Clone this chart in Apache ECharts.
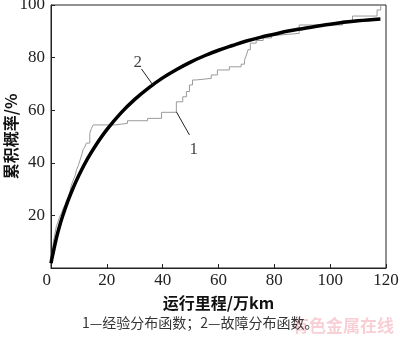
<!DOCTYPE html>
<html>
<head>
<meta charset="utf-8">
<script src="https://cdn.jsdelivr.net/npm/echarts@6/dist/echarts.min.js"></script>
<style>
  html, body { margin: 0; padding: 0; background: #fff; }
  #lineChart { width: 400px; height: 337px; }
</style>
</head>
<body>
<div id="lineChart"></div>
<script>
// 2 - fitted failure distribution (thick black)
var fitX = [0, 0.3, 1, 2, 3, 4, 6, 8, 10, 13, 16, 20, 25, 30, 35, 40, 45, 50, 55, 60, 65, 70, 75, 80, 85, 90, 100, 110, 118];
var fitY = [1.8, 3.5, 6.9, 11.7, 15.7, 19.2, 25.3, 30.6, 35.3, 41.4, 46.6, 52.6, 58.9, 64.1, 68.5, 72.3, 75.5, 78.3, 80.7, 82.8, 84.6, 86.3, 87.7, 88.9, 90.1, 91.0, 92.7, 94.0, 94.7];

// 1 - empirical distribution (grey steps), level after each jump
var empX = [0.2, 0.5, 0.8, 1.3, 1.9, 2.5, 3.1, 3.8, 4.3, 5.0, 5.5, 6.2, 6.7, 7.3, 8.0, 8.6, 9.2, 9.8, 10.4, 11.0, 11.5, 12.1, 12.7, 13.9, 14.5, 15.1, 22.9, 27.4, 34.6, 39.6, 44.9, 47.2, 48.5, 49.6, 50.7, 52.0, 57.4, 59.6, 63.9, 68.1, 69.3, 70.0, 70.6, 71.4, 73.5, 76.0, 79.0, 81.0, 88.9, 104.4, 108.0, 116.8, 118.1];
var empY = [3.0, 6.5, 9.5, 12.5, 15.7, 17.5, 19.5, 21.0, 22.5, 24.0, 25.5, 27.0, 28.5, 31.5, 33.5, 35.0, 37.5, 39.0, 41.0, 43.0, 45.0, 46.0, 47.5, 51.2, 53.1, 54.4, 55.0, 56.0, 56.9, 59.2, 63.2, 65.1, 67.1, 69.6, 71.5, 72.1, 73.4, 75.3, 76.5, 77.5, 79.0, 81.0, 83.0, 85.5, 86.5, 87.5, 88.5, 89.2, 92.4, 94.0, 95.8, 98.1, 100];

var xTicks = [0, 20, 40, 60, 80, 100, 120];
var yTicks = [0, 20, 40, 60, 80, 100];

// curve labels and their leader lines (data units)
var labelText = ['2', '1'];
var labelPos = [[31.1, 78.3], [51.1, 45.2]];
var leaderFrom = [[32.4, 75.7], [44.9, 59.4]];
var leaderTo = [[36.5, 69.6], [49.6, 50.6]];

var serif = '"Liberation Serif", "DejaVu Serif", serif';
var cjk = '"Noto Sans CJK SC", sans-serif';

function pairs(xs, ys) {
  var out = [];
  for (var i = 0; i < xs.length; i++) out.push([xs[i], ys[i]]);
  return out;
}

var diagram = echarts.init(document.getElementById('lineChart'));
diagram.setOption({
  animation: false,
  title: {
    text: '1—经验分布函数；2—故障分布函数。',
    left: 82,
    top: 316,
    padding: 0,
    textStyle: { fontFamily: cjk, fontSize: 14, fontWeight: 'normal', color: '#333' }
  },
  graphic: [{
    type: 'text',
    right: 6,
    top: 317,
    style: { text: '有色金属在线', font: 'bold 17px "Noto Sans CJK SC"', fill: 'rgba(235,110,125,0.33)' }
  }],
  grid: {
    left: 51, right: 14, top: 5, bottom: 69,
    containLabel: false,
    outerBoundsMode: 'none',
    show: true, borderColor: '#222', borderWidth: 1
  },
  xAxis: {
    type: 'value',
    min: 0, max: 120, interval: 20,
    name: '运行里程/万km',
    nameLocation: 'middle',
    nameGap: 27,
    nameMoveOverlap: false,
    nameTextStyle: { fontFamily: cjk, fontSize: 16, fontWeight: 'bold', color: '#111' },
    axisLine: { lineStyle: { color: '#222', width: 1 } },
    axisTick: { inside: true, length: 4, lineStyle: { color: '#222' } },
    splitLine: { show: false },
    axisLabel: {
      margin: 4,
      alignMinLabel: 'right',
      fontFamily: serif, fontSize: 17, color: '#222',
      formatter: function (v) {
        return xTicks.indexOf(v) < 0 ? '' : String(v);
      }
    }
  },
  yAxis: {
    type: 'value',
    min: 0, max: 100, interval: 20,
    name: '累积概率/%',
    nameLocation: 'middle',
    nameGap: 32,
    nameMoveOverlap: false,
    nameTextStyle: { fontFamily: cjk, fontSize: 16, fontWeight: 'bold', color: '#111' },
    axisLine: { lineStyle: { color: '#222', width: 1 } },
    axisTick: { inside: true, length: 4, lineStyle: { color: '#222' } },
    splitLine: { show: false },
    axisLabel: {
      margin: 6,
      fontFamily: serif, fontSize: 17, color: '#222',
      formatter: function (v) {
        return (v === 0 || yTicks.indexOf(v) < 0) ? '' : String(v);
      }
    }
  },
  series: [
    {
      name: '经验分布函数',
      type: 'line',
      step: 'end',
      showSymbol: false,
      data: pairs(empX, empY),
      lineStyle: { color: '#9a9a9a', width: 1 }
    },
    {
      name: '故障分布函数',
      type: 'line',
      smooth: 0.4,
      showSymbol: false,
      data: pairs(fitX, fitY),
      lineStyle: { color: '#000', width: 3.5 },
      markLine: {
        silent: true,
        symbol: 'none',
        label: { show: false },
        lineStyle: { color: '#222', width: 1, type: 'solid' },
        data: [
          [{ coord: leaderFrom[0] }, { coord: leaderTo[0] }],
          [{ coord: leaderFrom[1] }, { coord: leaderTo[1] }]
        ]
      }
    },
    {
      type: 'scatter',
      symbolSize: 0,
      data: [
        [labelPos[0][0], labelPos[0][1], labelText[0]],
        [labelPos[1][0], labelPos[1][1], labelText[1]]
      ],
      label: {
        show: true,
        position: 'inside',
        fontFamily: serif, fontSize: 17, color: '#111',
        formatter: function (p) { return p.value[2]; }
      }
    }
  ]
});
</script>
</body>
</html>
